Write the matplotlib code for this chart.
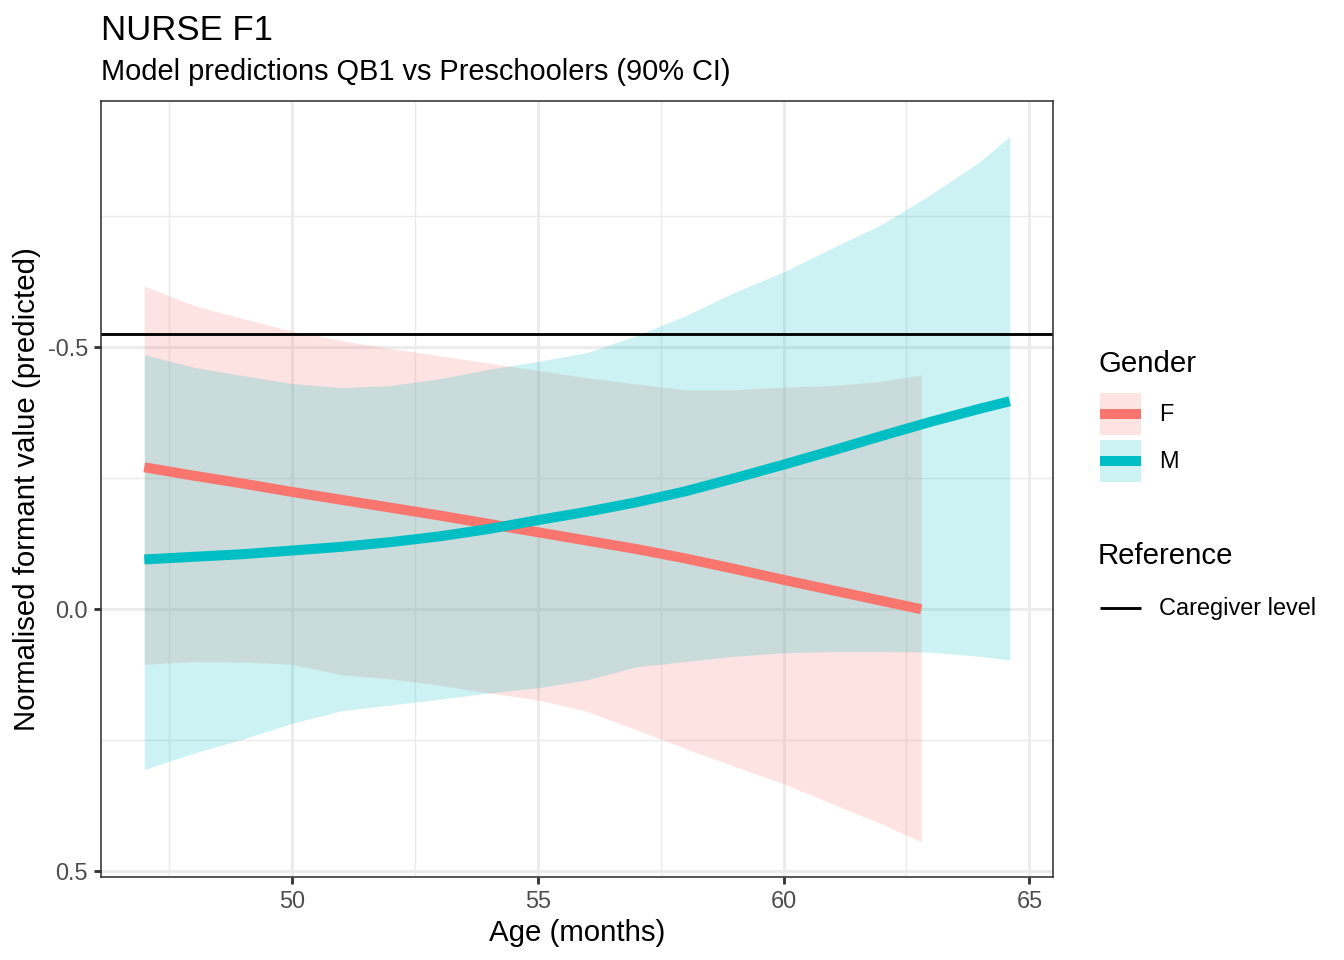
import matplotlib
matplotlib.use("Agg")
import matplotlib.pyplot as plt
import numpy as np
from matplotlib.patches import Patch
from matplotlib.lines import Line2D
from matplotlib.legend_handler import HandlerLine2D
from matplotlib.ticker import FixedLocator, FuncFormatter

plt.rcParams['font.family'] = ['Liberation Sans', 'DejaVu Sans']
plt.rcParams['axes.unicode_minus'] = False

# data
age_f = [47, 48, 49, 50, 51, 52, 53, 54, 55, 56, 57, 58, 59, 60, 61, 62, 62.8]
fit_f = [-0.271, -0.255, -0.240, -0.224, -0.209, -0.194, -0.179, -0.163, -0.147,
         -0.131, -0.115, -0.097, -0.077, -0.056, -0.036, -0.016, 0.000]
lo_f = [-0.617, -0.580, -0.555, -0.531, -0.513, -0.498, -0.484, -0.470, -0.456,
        -0.442, -0.430, -0.419, -0.419, -0.424, -0.427, -0.435, -0.447]
hi_f = [0.105, 0.100, 0.101, 0.105, 0.125, 0.133, 0.145, 0.160, 0.173,
        0.195, 0.230, 0.266, 0.300, 0.333, 0.372, 0.410, 0.444]

age_m = [47, 48, 49, 50, 51, 52, 53, 54, 55, 56, 57, 58, 59, 60, 61, 62, 63, 64, 64.6]
fit_m = [-0.095, -0.100, -0.105, -0.112, -0.119, -0.128, -0.139, -0.153, -0.170,
         -0.186, -0.204, -0.225, -0.250, -0.276, -0.303, -0.331, -0.358, -0.383, -0.397]
lo_m = [-0.486, -0.462, -0.446, -0.431, -0.423, -0.427, -0.440, -0.458, -0.473,
        -0.490, -0.522, -0.560, -0.605, -0.644, -0.690, -0.735, -0.792, -0.855, -0.903]
hi_m = [0.306, 0.275, 0.248, 0.218, 0.194, 0.183, 0.172, 0.160, 0.150,
        0.135, 0.110, 0.100, 0.090, 0.083, 0.081, 0.081, 0.082, 0.090, 0.097]

caregiver = -0.525

col_f = '#F8766D'
col_m = '#00BFC4'


# legend line handler that sits in the middle of the key box
class CenteredLine(HandlerLine2D):
    def create_artists(self, legend, orig_handle, xdescent, ydescent,
                       width, height, fontsize, trans):
        return super().create_artists(legend, orig_handle, xdescent, 2*ydescent,
                                      width, height, fontsize, trans)


fig = plt.figure(figsize=(7, 5), dpi=192)
ax = fig.add_axes([101/1344, 1-877/960, (1053-101)/1344, (877-101)/960])

ax.fill_between(age_f, lo_f, hi_f, color=col_f, alpha=0.2, lw=0, zorder=2)
ax.fill_between(age_m, lo_m, hi_m, color=col_m, alpha=0.2, lw=0, zorder=2)
ax.plot(age_f, fit_f, color=col_f, lw=3.75, solid_capstyle='butt', zorder=3)
ax.plot(age_m, fit_m, color=col_m, lw=3.75, solid_capstyle='butt', zorder=3)
ax.axhline(caregiver, color='black', lw=1.07, zorder=4)

# limits with ggplot style 5% expansion, y reversed
xs = age_f + age_m
ys = lo_f + hi_f + lo_m + hi_m
xr = max(xs) - min(xs)
yr = max(ys) - min(ys)
ax.set_xlim(min(xs) - 0.05*xr, max(xs) + 0.05*xr)
ax.set_ylim(max(ys) + 0.05*yr, min(ys) - 0.05*yr)

ax.xaxis.set_major_locator(FixedLocator([50, 55, 60, 65]))
ax.xaxis.set_minor_locator(FixedLocator([47.5, 52.5, 57.5, 62.5]))
ax.yaxis.set_major_locator(FixedLocator([-0.5, 0.0, 0.5]))
ax.yaxis.set_minor_locator(FixedLocator([-0.75, -0.25, 0.25]))
ax.yaxis.set_major_formatter(FuncFormatter(lambda v, p: f'{v:.1f}'))
ax.grid(which='major', color='#EBEBEB', lw=1.07, zorder=0)
ax.grid(which='minor', color='#EBEBEB', lw=0.53, zorder=0)
ax.set_axisbelow(True)
ax.tick_params(which='major', length=2.75, width=1.07, color='#333333',
               labelsize=8.8, labelcolor='#4D4D4D', pad=2.2)
ax.tick_params(which='minor', length=0)
for s in ax.spines.values():
    s.set_color('#333333')
    s.set_linewidth(0.6)
    s.set_zorder(5)

ax.set_xlabel('Age (months)', fontsize=11, labelpad=2)
ax.set_ylabel('Normalised formant value (predicted)', fontsize=11, labelpad=2.4)

fig.text(101/1344, 1-14/960, 'NURSE F1', fontsize=13.05, ha='left', va='top')
fig.text(101/1344, 1-58/960, 'Model predictions QB1 vs Preschoolers (90% CI)',
         fontsize=10.9, ha='left', va='top')

# legends (titles as plain text so the gap matches)
fig.text(1098/1344, 1-364/960, 'Gender', fontsize=11, ha='left', va='center')
fig.text(1098/1344, 1-556/960, 'Reference', fontsize=11, ha='left', va='center')

legkw = dict(loc='upper left', frameon=False, fontsize=8.8, handlelength=1.75,
             handleheight=2.377, labelspacing=0.21, handletextpad=0.77,
             borderpad=0, borderaxespad=0, handler_map={Line2D: CenteredLine()})
h_f = (Patch(facecolor=col_f, alpha=0.2, lw=0),
       Line2D([], [], color=col_f, lw=3.75, solid_capstyle='butt'))
h_m = (Patch(facecolor=col_m, alpha=0.2, lw=0),
       Line2D([], [], color=col_m, lw=3.75, solid_capstyle='butt'))
leg1 = fig.legend([h_f, h_m], ['F', 'M'],
                  bbox_to_anchor=(1100/1344, 1-393/960), **legkw)
leg2 = fig.legend([Line2D([], [], color='black', lw=1.07, solid_capstyle='butt')],
                  ['Caregiver level'],
                  bbox_to_anchor=(1100/1344, 1-587/960), **legkw)

fig.savefig('out.png', dpi=192)
